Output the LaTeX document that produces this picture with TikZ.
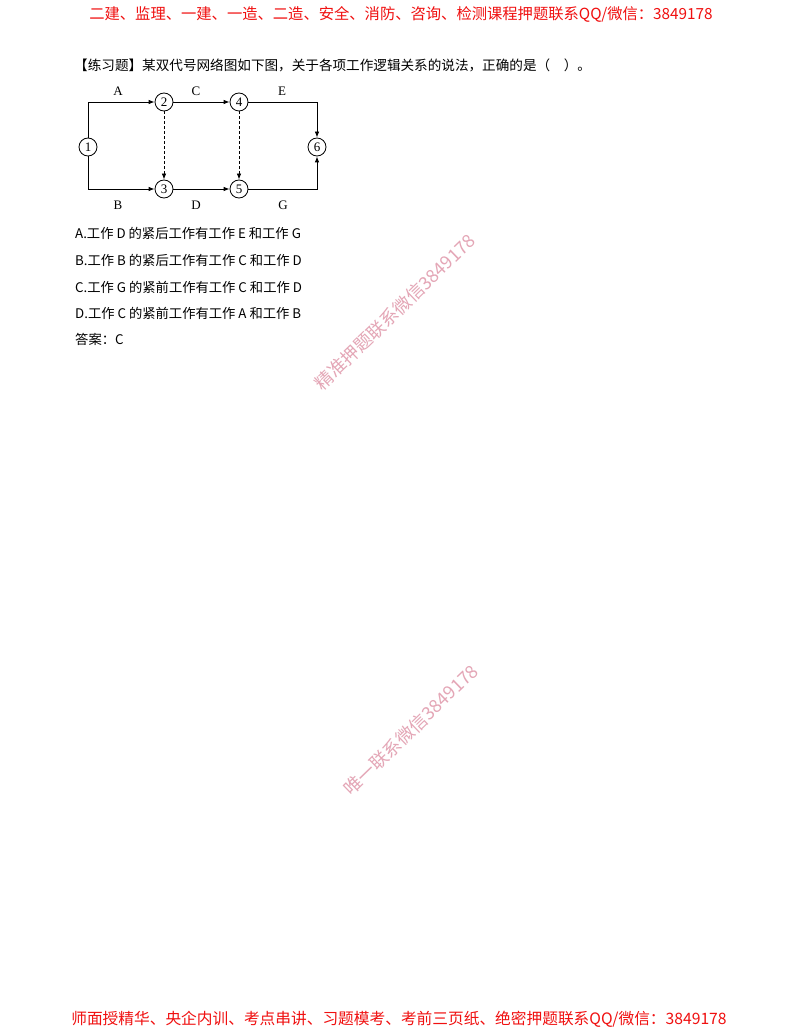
\documentclass[tikz,border=0pt]{standalone}
\usepackage{fontspec}
\setmainfont{Liberation Serif}
\newfontfamily\cjk{Noto Sans CJK SC}
\usetikzlibrary{arrows.meta}
\definecolor{hdred}{HTML}{F01010}
\definecolor{wmpink}{HTML}{E4A6B6}
\tikzset{
  ev/.style={circle,draw,line width=0.8pt,minimum size=18pt,inner sep=0pt,font=\fontsize{13}{13}\selectfont},
  arr/.style={line width=0.8pt,-{Latex[length=6pt,width=4.5pt]}},
  dum/.style={arr,dash pattern=on 3pt off 2pt},
  lbl/.style={font=\fontsize{13}{13}\selectfont},
  hdr/.style={text=hdred,font=\cjk\fontsize{15.3}{16}\selectfont,inner sep=0pt},
  ftr/.style={text=hdred,font=\cjk\fontsize{15.7}{16}\selectfont,inner sep=0pt},
  txt/.style={anchor=west,inner sep=0pt,font=\cjk\fontsize{13.6}{14}\selectfont},
  opt/.style={anchor=west,inner sep=0pt,font=\cjk\fontsize{13.3}{14}\selectfont},
  wm/.style={text=wmpink,font=\cjk\fontsize{18}{18}\selectfont,rotate=44,inner sep=0pt}
}
\begin{document}
\begin{tikzpicture}[x=1pt,y=-1pt]
\useasboundingbox[fill=white] (0,0) rectangle (800,1035);
\node[hdr] (hd) at (401,14) {二建、监理、一建、一造、二造、安全、消防、咨询、检测课程押题联系QQ/微信：3849178};
\node[txt] (q) at (74,65) {【练习题】某双代号网络图如下图，关于各项工作逻辑关系的说法，正确的是（\quad）。};
% network
\node[ev] (n1) at (88,147) {1};
\node[ev] (n2) at (164,102) {2};
\node[ev] (n4) at (239,102) {4};
\node[ev] (n6) at (317,147) {6};
\node[ev] (n3) at (164,189) {3};
\node[ev] (n5) at (239,189) {5};
\draw[arr] (n1) |- (n2);
\draw[arr] (n1) |- (n3);
\draw[arr] (n2) -- (n4);
\draw[arr] (n3) -- (n5);
\draw[arr] (n4) -| (n6);
\draw[arr] (n5) -| (n6);
\draw[dum] (n2) -- (n3);
\draw[dum] (n4) -- (n5);
\node[lbl] (la) at (118,91) {A};
\node[lbl] (lc) at (196,91) {C};
\node[lbl] (le) at (282,91) {E};
\node[lbl] (lb) at (118,205) {B};
\node[lbl] (ld) at (196,205) {D};
\node[lbl] (lg) at (283,205) {G};
% options
\node[opt] (oa) at (75,233) {A.工作 D 的紧后工作有工作 E 和工作 G};
\node[opt] (ob) at (75,260) {B.工作 B 的紧后工作有工作 C 和工作 D};
\node[opt] (oc) at (75,287) {C.工作 G 的紧前工作有工作 C 和工作 D};
\node[opt] (od) at (75,313) {D.工作 C 的紧前工作有工作 A 和工作 B};
\node[opt] (ans) at (75,339) {答案：C};
% watermarks
\node[wm] (w1) at (395,312) {精准押题联系微信3849178};
\node[wm] (w2) at (411,730) {唯一联系微信3849178};
\node[ftr] (ft) at (399,1019) {师面授精华、央企内训、考点串讲、习题模考、考前三页纸、绝密押题联系QQ/微信：3849178};
\end{tikzpicture}
\end{document}
